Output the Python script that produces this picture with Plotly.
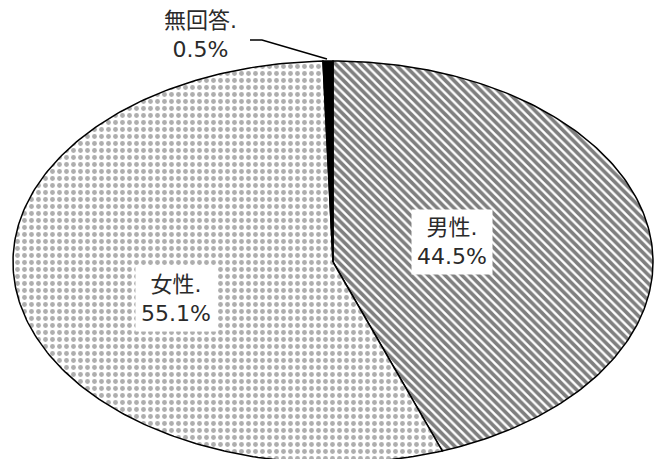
import numpy as np
import plotly.graph_objects as go

# Survey respondents by gender (percent)
categories = ["男性", "女性", "無回答"]
values = [44.5, 55.1, 0.5]

# Ellipse geometry in pixel space
W, H = 656, 459
cx, cy = 333, 262
rx, ry = 320, 201

patterns = [
    dict(shape="\\", fgcolor="black", bgcolor="white", size=6, solidity=0.6),
    dict(shape=".", fgcolor="#5e5e5e", bgcolor="white", size=7, solidity=0.38),
    None,
]
fills = ["white", "white", "black"]

fig = go.Figure()
frac = np.array(values) / np.sum(values)
starts = np.concatenate([[0], np.cumsum(frac)[:-1]])
for cat, f0, f, pat, fc in zip(categories, starts, frac, patterns, fills):
    # clockwise from 12 o'clock
    t = np.linspace(f0, f0 + f, max(int(f * 400), 4)) * 2 * np.pi
    xs = np.concatenate([[cx], cx + rx * np.sin(t), [cx]])
    ys = np.concatenate([[cy], cy - ry * np.cos(t), [cy]])
    kw = dict(fillpattern=pat) if pat else dict(fillcolor=fc)
    fig.add_trace(go.Scatter(
        x=xs, y=ys, mode="lines", fill="toself", name=cat,
        line=dict(color="black", width=1.5), hoverinfo="skip", **kw))

font = dict(family="DejaVu Sans, Noto Sans CJK JP", size=22, color="#2a2a2a")

labels = [f"{c}.<br>{v}%" for c, v in zip(categories, values)]
fig.add_annotation(x=452, y=242, text=labels[0], showarrow=False,
                   font=font, bgcolor="white", borderpad=5, align="center")
fig.add_annotation(x=176, y=299, text=labels[1], showarrow=False,
                   font=font, bgcolor="white", borderpad=5, align="center")
fig.add_annotation(x=200, y=35, text=labels[2], showarrow=False,
                   font=font, align="center")

# leader line for the small slice
fig.add_trace(go.Scatter(x=[250, 262, 327], y=[40, 40, 59], mode="lines",
                         line=dict(color="black", width=1.5), hoverinfo="skip"))

fig.update_layout(
    width=W, height=H, margin=dict(l=0, r=0, t=0, b=0),
    paper_bgcolor="white", plot_bgcolor="white", showlegend=False,
    xaxis=dict(range=[0, W], visible=False, fixedrange=True),
    yaxis=dict(range=[H, 0], visible=False, fixedrange=True),
)
fig.write_html("out.html")
